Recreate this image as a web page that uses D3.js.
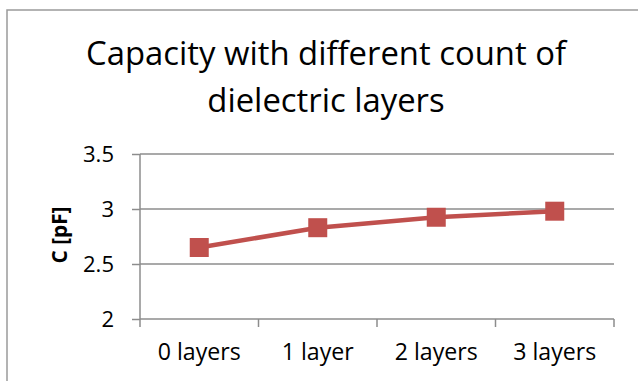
<!DOCTYPE html>
<html><head><meta charset="utf-8">
<script src="https://cdn.jsdelivr.net/npm/d3@7"></script>
<style>html,body{margin:0;padding:0;background:#fff;overflow:hidden}</style>
</head><body>
<svg id="c" width="638" height="381"></svg>
<script>
const categories = ["0 layers", "1 layer", "2 layers", "3 layers"];
const capacity = [2.65, 2.83, 2.925, 2.98];
const yTicks = [2, 2.5, 3, 3.5];
const titleLines = ["Capacity with different count of", "dielectric layers"];
const yLabel = "C [pF]";

const font = "'Open Sans', Lato, sans-serif";
const svg = d3.select("#c");
const m = {left: 140, right: 614, top: 154, bottom: 319};

// size a text node so its natural width matches a target width
function fit(node, target) {
  const s = +node.getAttribute("font-size");
  const w = node.getComputedTextLength();
  node.setAttribute("font-size", (s * target / w).toFixed(2));
}

// frame
svg.append("rect").attr("x", 7).attr("y", 10).attr("width", 700).attr("height", 500)
  .attr("fill", "#fff").attr("stroke", "#9a9a9a").attr("stroke-width", 1.5);

const x = d3.scaleBand().domain(categories).range([m.left, m.right]);
const y = d3.scaleLinear().domain([2, 3.5]).range([m.bottom, m.top]);

// gridlines
svg.append("g").selectAll("line").data(yTicks.filter(t => t > 2)).join("line")
  .attr("x1", m.left).attr("x2", m.right)
  .attr("y1", d => y(d)).attr("y2", d => y(d))
  .attr("stroke", "#8c8c8c").attr("stroke-width", 1.5);

// y axis
const ya = svg.append("g").attr("transform", `translate(${m.left},0)`)
  .call(d3.axisLeft(y).tickValues(yTicks).tickSize(8).tickFormat(d3.format("")));
ya.select(".domain").attr("stroke", "#8c8c8c").attr("stroke-width", 1.5).attr("d", `M0,${m.top}V${m.bottom}`);
ya.selectAll(".tick line").attr("stroke", "#8c8c8c").attr("stroke-width", 1.5);
ya.selectAll(".tick text").attr("font-family", font).attr("font-size", 20).attr("fill", "#000")
  .attr("x", -26).attr("dy", "0.36em");
ya.selectAll(".tick text").filter(d => d === 3.5).each(function(){ fit(this, 31); });
const ySize = ya.selectAll(".tick text").filter(d => d === 3.5).attr("font-size");
ya.selectAll(".tick text").attr("font-size", ySize);

// x axis
const xa = svg.append("g").attr("transform", `translate(0,${m.bottom})`)
  .call(d3.axisBottom(x).tickSize(0).tickPadding(0));
xa.select(".domain").attr("stroke", "#8c8c8c").attr("stroke-width", 1.5).attr("d", `M${m.left},0H${m.right}`);
xa.selectAll(".tick text").attr("font-family", font).attr("font-size", 20).attr("fill", "#000")
  .attr("y", 41).attr("dy", null);
xa.selectAll(".tick text").filter(d => d === "0 layers").each(function(){ fit(this, 83); });
const xSize = xa.selectAll(".tick text").filter(d => d === "0 layers").attr("font-size");
xa.selectAll(".tick text").attr("font-size", xSize);
const bounds = [m.left, ...categories.map(c => x(c) + x.bandwidth())];
svg.append("g").selectAll("line").data(bounds).join("line")
  .attr("x1", d => d).attr("x2", d => d).attr("y1", m.bottom).attr("y2", m.bottom + 8)
  .attr("stroke", "#8c8c8c").attr("stroke-width", 1.5);

// line
const cx = c => x(c) + x.bandwidth() / 2;
svg.append("path").datum(categories.map((c, i) => [cx(c), y(capacity[i])]))
  .attr("d", d3.line()).attr("fill", "none").attr("stroke", "#C0504D").attr("stroke-width", 4.5);
const ms = 19;
svg.append("g").selectAll("rect").data(categories).join("rect")
  .attr("x", d => cx(d) - ms / 2).attr("y", (d, i) => y(capacity[i]) - ms / 2)
  .attr("width", ms).attr("height", ms).attr("fill", "#C0504D");

// title
const tt = svg.append("g").selectAll("text").data(titleLines).join("text")
  .attr("x", 326).attr("y", (d, i) => 65 + i * 47).attr("text-anchor", "middle")
  .attr("font-family", font).attr("font-size", 30).attr("fill", "#000").text(d => d);
fit(tt.nodes()[0], 480);
tt.attr("font-size", tt.nodes()[0].getAttribute("font-size"));

// y label
const yl = svg.append("text").attr("transform", "translate(67,235) rotate(-90)").attr("text-anchor", "middle")
  .attr("font-family", font).attr("font-size", 17).attr("font-weight", "bold").attr("fill", "#000").text(yLabel);
fit(yl.node(), 57);
</script>
</body></html>
